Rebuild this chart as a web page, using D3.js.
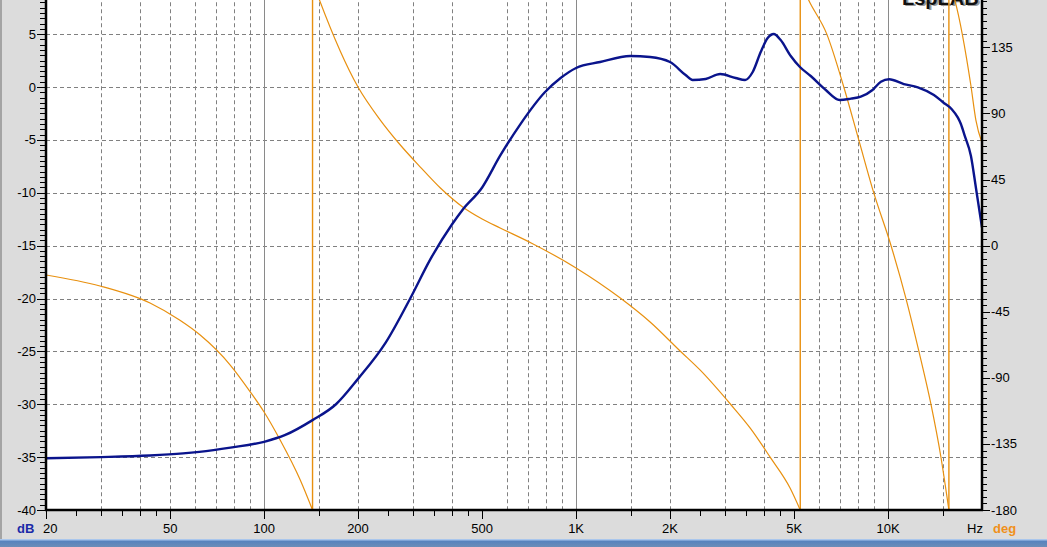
<!DOCTYPE html>
<html>
<head>
<meta charset="utf-8">
<script src="https://cdn.jsdelivr.net/npm/d3@7"></script>
<style>
html,body{margin:0;padding:0;background:#dcdcdc;overflow:hidden;}
svg{display:block;}
text{font-family:"Liberation Sans",Arial,sans-serif;}
</style>
</head>
<body>
<svg id="chart" width="1047" height="547"></svg>
<script>
// ---- data ----
const splFreq = [20,30,43,55,62,78,100,117,143,170,200,245,294,341,400,433,500,571,660,794,892,1000,1194,1491,1727,2000,2244,2363,2602,2897,3246,3480,3682,3906,4112,4300,4526,4876,5217,5650,6314,6995,7600,8176,8914,9482,10078,11232,12458,14024,15096,16000,16740,17114,17600,18426,19116,20000];
const splDb   = [-35.1,-35.0,-34.85,-34.65,-34.5,-34.1,-33.55,-32.9,-31.5,-30.0,-27.6,-24.2,-20.0,-16.3,-13.0,-11.6,-9.5,-6.5,-3.6,-0.5,0.85,1.8,2.36,2.93,2.84,2.36,1.13,0.66,0.76,1.23,0.85,0.66,1.42,3.31,4.63,5.01,4.44,2.93,1.89,1.04,-0.28,-1.23,-1.1,-0.92,-0.28,0.5,0.73,0.28,-0.03,-0.76,-1.51,-2.1,-2.9,-3.5,-4.6,-6.5,-9.5,-13.3];

const phaseSeg1Freq = [20,29.8,43.1,53.6,62.4,77.9,90.4,100,112.6,130.6,143];
const phaseSeg1Deg  = [-20.0,-27.5,-39.1,-50.7,-60.9,-81.3,-99.7,-113.3,-132.4,-159.6,-180];
const phaseSeg2Freq = [143,150.5,200,235.8,271.6,316.8,367.4,433,500,571,718,1000,1386,1727,2159,2500,3127,3621,4193,4856,5230];
const phaseSeg2Deg  = [180,167.2,108,85.5,69.2,53.5,39.2,26.3,18.1,12.0,1.8,-15.2,-35.7,-52.0,-71.9,-84.8,-108,-124.4,-144.2,-165.2,-180];
const phaseSeg3Freq = [5230,5568,6362,7212,8058,9004,10206,11402,12550,13716,14768,15664];
const phaseSeg3Deg  = [180,167,144,108,71.8,35.7,0.4,-35.7,-71.8,-107.8,-143.9,-180];
const phaseSeg4Freq = [15664,16376,18426,19116,20000];
const phaseSeg4Deg  = [180,167,109,85.5,70];
const phaseWraps = [143,5230,15664];

const xMajorTicks  = [20,50,100,200,500,1000,2000,5000,10000];
const xMajorLabels = ["20","50","100","200","500","1K","2K","5K","10K"];
const xMinorTicks  = [25,30,35,40,45,150,250,300,350,400,450,1500,2500,3000,3500,4000,4500,15000];
const xGridDashed  = [30,40,50,60,70,80,90,150,200,300,400,600,700,800,900,1500,2000,3000,4000,6000,7000,8000,9000,15000];
const xGridSolid   = [100,1000,10000];
const dbTicks  = [5,0,-5,-10,-15,-20,-25,-30,-35,-40];
const degTicks = [135,90,45,0,-45,-90,-135,-180];

// ---- layout ----
const L = 46, R = 982, B = 510, T = -18.75;
const svg = d3.select("#chart");

const x = d3.scaleLog().domain([20,20000]).range([L,R]);
const yDb = d3.scaleLinear().domain([-40,10]).range([B,T]);
const yDeg = d3.scaleLinear().domain([-180,180]).range([B,T]);

// background panels
svg.append("rect").attr("x",0).attr("y",0).attr("width",1047).attr("height",547).attr("fill","#dcdcdc");
svg.append("rect").attr("x",0).attr("y",0).attr("width",2).attr("height",540).attr("fill","#a4a4a4");
svg.append("rect").attr("x",L).attr("y",T).attr("width",R-L).attr("height",B-T).attr("fill","#ffffff");

// taskbar strip at bottom
const grad = svg.append("defs").append("linearGradient").attr("id","tb").attr("x1",0).attr("y1",0).attr("x2",0).attr("y2",1);
grad.append("stop").attr("offset","0%").attr("stop-color","#4f7fc0");
grad.append("stop").attr("offset","100%").attr("stop-color","#6b8db8");
svg.append("rect").attr("x",0).attr("y",539).attr("width",1047).attr("height",8).attr("fill","url(#tb)");
svg.append("rect").attr("x",0).attr("y",539).attr("width",1047).attr("height",1.5).attr("fill","#a9c6ec");

const clip = svg.append("defs").append("clipPath").attr("id","plot");
clip.append("rect").attr("x",L).attr("y",T).attr("width",R-L).attr("height",B-T);
const g = svg.append("g").attr("clip-path","url(#plot)");

// grid
g.selectAll(".hg").data(dbTicks.filter(d=>d>-40).concat([10])).enter().append("line")
  .attr("x1",L).attr("x2",R).attr("y1",d=>Math.round(yDb(d))+0.5).attr("y2",d=>Math.round(yDb(d))+0.5)
  .attr("stroke","#808080").attr("stroke-width",1).attr("stroke-dasharray","4,3");
g.selectAll(".vg").data(xGridDashed).enter().append("line")
  .attr("x1",d=>Math.round(x(d))+0.5).attr("x2",d=>Math.round(x(d))+0.5).attr("y1",T).attr("y2",B)
  .attr("stroke","#808080").attr("stroke-width",1).attr("stroke-dasharray","4,3");
g.selectAll(".vs").data(xGridSolid).enter().append("line")
  .attr("x1",d=>Math.round(x(d))+0.5).attr("x2",d=>Math.round(x(d))+0.5).attr("y1",T).attr("y2",B)
  .attr("stroke","#8a8a8a").attr("stroke-width",1);

// logo (cut off at top, as in the reference)
g.append("text").attr("x",904).attr("y",6).attr("font-family","Liberation Serif, serif").attr("font-weight","bold")
  .attr("font-size",20).attr("fill","#9a9a9a").text("LspLAB");
g.append("text").attr("x",902).attr("y",4.5).attr("font-family","Liberation Serif, serif").attr("font-weight","bold")
  .attr("font-size",20).attr("fill","#111").text("LspLAB");

// phase
const orange = "#e8900f";
const phaseLine = d3.line().x(d=>x(d[0])).y(d=>yDeg(d[1])).curve(d3.curveMonotoneX);
const segs = [
  d3.zip(phaseSeg1Freq, phaseSeg1Deg),
  d3.zip(phaseSeg2Freq, phaseSeg2Deg),
  d3.zip(phaseSeg3Freq, phaseSeg3Deg),
  d3.zip(phaseSeg4Freq, phaseSeg4Deg)
];
g.selectAll(".ph").data(segs).enter().append("path").attr("d",phaseLine)
  .attr("fill","none").attr("stroke",orange).attr("stroke-width",1.2);
g.selectAll(".wrap").data(phaseWraps).enter().append("line")
  .attr("x1",d=>x(d)).attr("x2",d=>x(d)).attr("y1",yDeg(-180)).attr("y2",yDeg(180))
  .attr("stroke",orange).attr("stroke-width",1.4);

// SPL
const splLine = d3.line().x(d=>x(d[0])).y(d=>yDb(d[1])).curve(d3.curveMonotoneX);
g.append("path").attr("d",splLine(d3.zip(splFreq,splDb)))
  .attr("fill","none").attr("stroke","#0a148c").attr("stroke-width",2.4).attr("stroke-linejoin","round");

// axes
const ax = svg.append("g");
// left axis
const leftMinor = d3.range(-40,10.01,0.5);
ax.selectAll(".lm").data(leftMinor).enter().append("line")
  .attr("x1",L-6).attr("x2",L).attr("y1",d=>Math.round(yDb(d))+0.5).attr("y2",d=>Math.round(yDb(d))+0.5)
  .attr("stroke","#000").attr("stroke-width",1);
ax.selectAll(".lM").data(dbTicks).enter().append("line")
  .attr("x1",L-9).attr("x2",L).attr("y1",d=>Math.round(yDb(d))+0.5).attr("y2",d=>Math.round(yDb(d))+0.5)
  .attr("stroke","#000").attr("stroke-width",1);
ax.selectAll(".lt").data(dbTicks).enter().append("text")
  .attr("x",36).attr("y",d=>yDb(d)+4.5).attr("text-anchor","end").attr("font-size",13).attr("fill","#000")
  .text(d=>d);
// right axis
const rightMinor = d3.range(-180,180.01,4.5);
ax.selectAll(".rm").data(rightMinor).enter().append("line")
  .attr("x1",R).attr("x2",R+5).attr("y1",d=>Math.round(yDeg(d))+0.5).attr("y2",d=>Math.round(yDeg(d))+0.5)
  .attr("stroke","#000").attr("stroke-width",1);
ax.selectAll(".rM").data(degTicks).enter().append("line")
  .attr("x1",R).attr("x2",R+8).attr("y1",d=>Math.round(yDeg(d))+0.5).attr("y2",d=>Math.round(yDeg(d))+0.5)
  .attr("stroke","#000").attr("stroke-width",1);
ax.selectAll(".rt").data(degTicks).enter().append("text")
  .attr("x",991).attr("y",d=>yDeg(d)+4.5).attr("text-anchor","start").attr("font-size",13).attr("fill","#000")
  .text(d=>d);
// bottom axis
ax.selectAll(".bm").data(xMinorTicks).enter().append("line")
  .attr("x1",d=>Math.round(x(d))+0.5).attr("x2",d=>Math.round(x(d))+0.5).attr("y1",B).attr("y2",B+6)
  .attr("stroke","#000").attr("stroke-width",1);
ax.selectAll(".bM").data(xMajorTicks).enter().append("line")
  .attr("x1",d=>Math.round(x(d))+0.5).attr("x2",d=>Math.round(x(d))+0.5).attr("y1",B).attr("y2",B+9)
  .attr("stroke","#000").attr("stroke-width",1);
ax.selectAll(".bt").data(xMajorTicks).enter().append("text")
  .attr("x",(d,i)=> i===0 ? x(d)-3 : x(d)).attr("y",533)
  .attr("text-anchor",(d,i)=> i===0 ? "start" : "middle").attr("font-size",13).attr("fill","#000")
  .text((d,i)=>xMajorLabels[i]);
// frame lines
ax.append("line").attr("x1",L).attr("x2",L).attr("y1",T).attr("y2",B+1).attr("stroke","#000").attr("stroke-width",2.5);
ax.append("line").attr("x1",R).attr("x2",R).attr("y1",T).attr("y2",B+1).attr("stroke","#000").attr("stroke-width",2.5);
ax.append("line").attr("x1",L-1).attr("x2",R+1).attr("y1",B).attr("y2",B).attr("stroke","#000").attr("stroke-width",2.5);

// unit labels
svg.append("text").attr("x",17).attr("y",533).attr("font-size",13).attr("font-weight","bold").attr("fill","#1a2aa8").text("dB");
svg.append("text").attr("x",967).attr("y",533).attr("font-size",13).attr("fill","#000").text("Hz");
svg.append("text").attr("x",993).attr("y",533).attr("font-size",13).attr("font-weight","bold").attr("fill","#f0901a").text("deg");
</script>
</body>
</html>
